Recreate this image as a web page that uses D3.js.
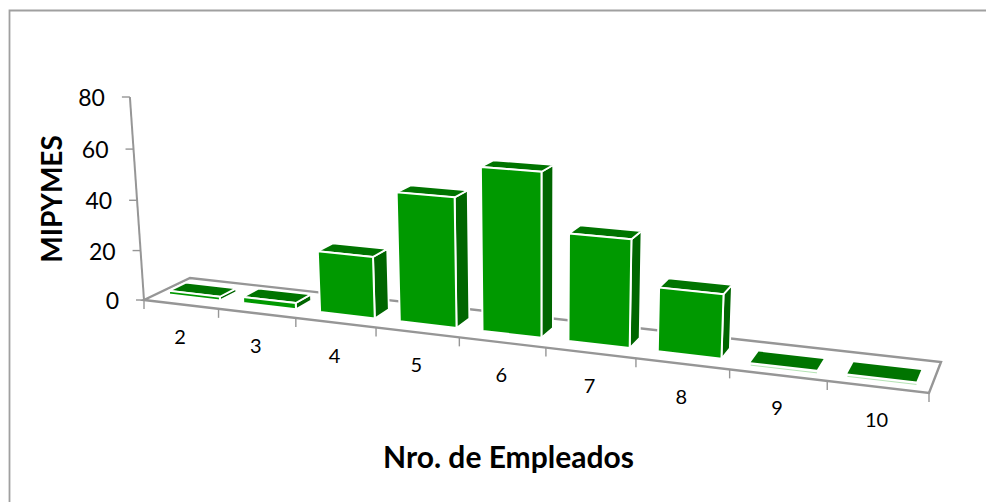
<!DOCTYPE html>
<html>
<head>
<meta charset="utf-8">
<script src="https://cdn.jsdelivr.net/npm/d3@7/dist/d3.min.js"></script>
<style>
html,body{margin:0;padding:0;background:#fff}
svg{display:block}
text{font-family:Lato,"Open Sans",sans-serif;fill:#000}
</style>
</head>
<body>
<svg id="chart" width="986" height="502"></svg>
<script>
const categories = ["2","3","4","5","6","7","8","9","10"];
const values = [1.5, 2.5, 24, 49.5, 61.5, 40, 23.5, 0, 0];
const yTicks = [0, 20, 40, 60, 80];
const xTitle = "Nro. de Empleados";
const yTitle = "MIPYMES";

const svg = d3.select("#chart");

// Floor corners of the oblique view: front-left, front-right, back-right, back-left
const floorQuad = [[144,300],[929,393],[941,362],[190,278]];
const vanish = [540,6000];   // where upright edges converge

// Solve the unit-square to quad homography
function squareToQuad(q){
  const [[x0,y0],[x1,y1],[x2,y2],[x3,y3]] = q;
  const dx1=x1-x2, dx2=x3-x2, sx=x0-x1+x2-x3;
  const dy1=y1-y2, dy2=y3-y2, sy=y0-y1+y2-y3;
  const det=dx1*dy2-dx2*dy1;
  const g=(sx*dy2-dx2*sy)/det, h=(dx1*sy-sx*dy1)/det;
  return {a:x1-x0+g*x1,b:x3-x0+h*x3,c:x0,d:y1-y0+g*y1,e:y3-y0+h*y3,f:y0,g,h};
}
const H = squareToQuad(floorQuad);

const yMax = 80;
const yTopPixel = 97;
// Weight of the height column, chosen so the top of the value axis lands on yTopPixel
const kh = (yTopPixel-floorQuad[0][1])/(vanish[1]-yTopPixel);
const heightScale = d3.scaleLinear().domain([0,yMax]).range([0,1]);
const xBand = d3.scaleBand().domain(categories).range([-0.0005,0.9995]).paddingInner(0.31).paddingOuter(0.155);
const xEdge = d3.scaleBand().domain(categories).range([0,1]);

function project(u,v,val){
  const t = heightScale(val)*kh;
  const w = H.g*u+H.h*v+1+t;
  return [(H.a*u+H.b*v+H.c+t*vanish[0])/w,(H.d*u+H.e*v+H.f+t*vanish[1])/w];
}
const poly = pts => "M"+pts.map(p=>p.map(n=>n.toFixed(2)).join(",")).join("L")+"Z";
const GREY = "#969696";

// Chart frame: only the left and top rules fall inside the page
svg.append("path").attr("d","M9.5,502V10.5H986").attr("fill","none")
  .attr("stroke","#a0a0a0").attr("stroke-width",1.8);

// Floor
svg.append("path").attr("d",poly([project(0,0,0),project(1,0,0),project(1,1,0),project(0,1,0)]))
  .attr("fill","#fff").attr("stroke",GREY).attr("stroke-width",2.4).attr("stroke-linejoin","miter");

// Value axis
const axisLine = [project(0,0,0),project(0,0,yMax)];
svg.append("path").attr("d","M"+axisLine.join("L")).attr("fill","none").attr("stroke",GREY).attr("stroke-width",2);
yTicks.forEach(t=>{
  const p = project(0,0,t);
  svg.append("line").attr("x1",p[0]-8).attr("x2",p[0]).attr("y1",p[1]).attr("y2",p[1])
    .attr("stroke",GREY).attr("stroke-width",1.4);
  svg.append("text").attr("x",p[0]-25).attr("y",p[1]+9).attr("text-anchor","end")
    .attr("font-size",23).text(t);
});

// Category ticks and labels along the front edge
const edges = [0,...categories.map(c=>xEdge(c)+xEdge.bandwidth())];
edges.forEach(u=>{
  const p = project(u,0,0);
  svg.append("line").attr("x1",p[0]).attr("x2",p[0]).attr("y1",p[1]).attr("y2",p[1]+9)
    .attr("stroke",GREY).attr("stroke-width",1.4);
});
const labelOffsetX = -1, labelOffsetY = 40;
categories.forEach(c=>{
  const p = project(xEdge(c)+xEdge.bandwidth()/2,0,0);
  svg.append("text").attr("x",p[0]+labelOffsetX).attr("y",p[1]+labelOffsetY)
    .attr("text-anchor","middle").attr("font-size",20).text(c);
});

// Bars, back faces first so the front face sits on top
const v0 = 0.30, v1 = 0.67;
const bars = svg.append("g");
categories.forEach((c,i)=>{
  const u0 = xBand(c), u1 = u0+xBand.bandwidth(), val = values[i];
  const g = bars.append("g").attr("stroke-linejoin","round");
  const side = [project(u1,v0,0),project(u1,v1,0),project(u1,v1,val),project(u1,v0,val)];
  const top = [project(u0,v0,val),project(u1,v0,val),project(u1,v1,val),project(u0,v1,val)];
  const front = [project(u0,v0,0),project(u1,v0,0),project(u1,v0,val),project(u0,v0,val)];
  if(val>0){
    g.append("path").attr("d",poly(side)).attr("fill","#006600").attr("stroke","#fff").attr("stroke-width",1.8);
    g.append("path").attr("d",poly(top)).attr("fill","#007400").attr("stroke","#fff").attr("stroke-width",1.8);
    g.append("path").attr("d",poly(front)).attr("fill","#009900").attr("stroke","#fff").attr("stroke-width",2);
  } else {
    g.append("path").attr("d",poly(top)).attr("fill","#007400");
    g.append("line").attr("x1",front[0][0]).attr("y1",front[0][1]+3).attr("x2",front[1][0]).attr("y2",front[1][1]+3)
      .attr("stroke","#b4e4b4").attr("stroke-width",1);
  }
});

// Axis titles
svg.append("text").attr("x",508.5).attr("y",468).attr("text-anchor","middle")
  .attr("font-size",30).attr("font-weight",700).text(xTitle);
svg.append("text").attr("transform","translate(62,199) rotate(-90)").attr("text-anchor","middle")
  .attr("font-size",28).attr("font-weight",700).text(yTitle);
</script>
</body>
</html>
